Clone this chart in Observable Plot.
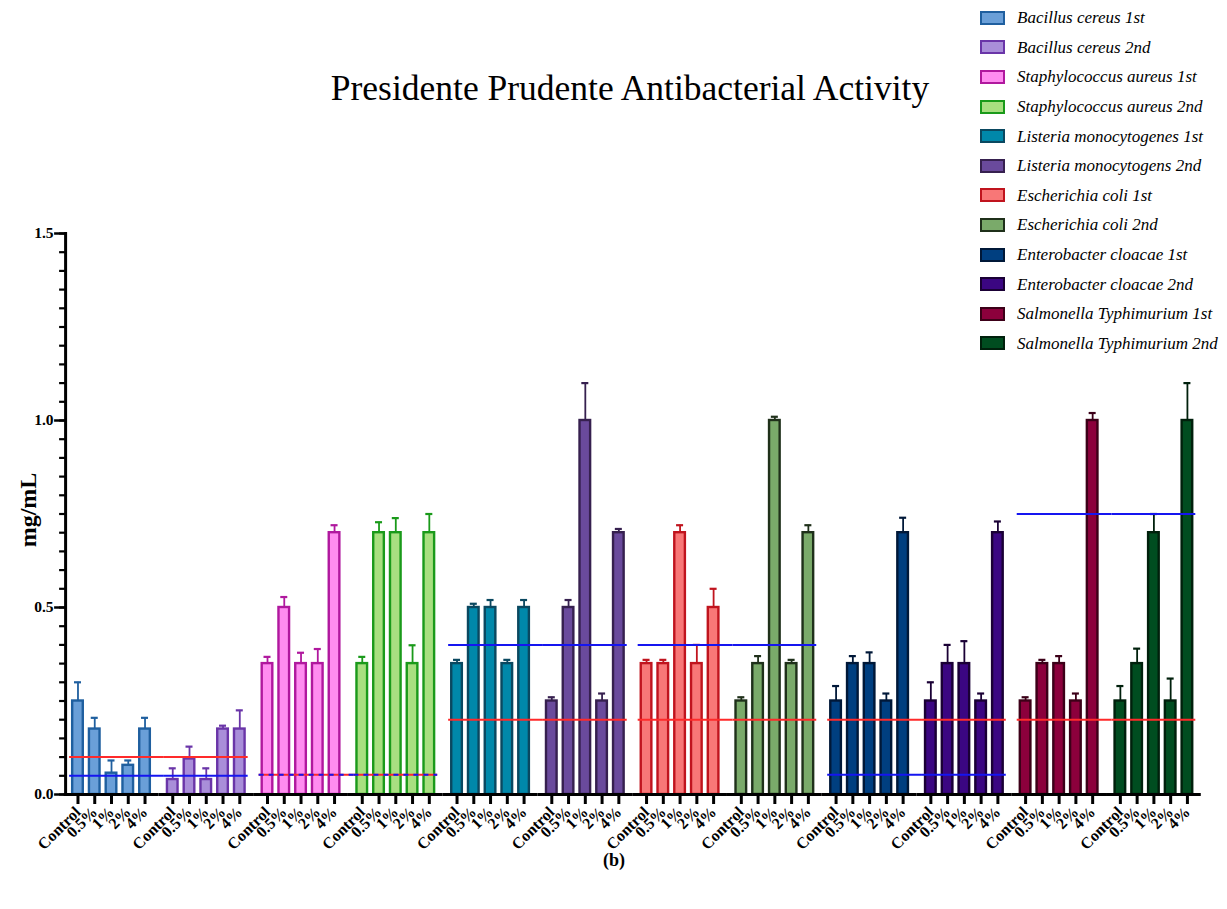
<!DOCTYPE html>
<html>
<head>
<meta charset="utf-8">
<script src="https://cdn.jsdelivr.net/npm/d3@7"></script>
<script src="https://cdn.jsdelivr.net/npm/@observablehq/plot@0.6"></script>
<style>
  body { margin: 0; background: #fff; }
  #wrap { position: relative; width: 1227px; height: 909px; font-family: "Liberation Serif", "Times New Roman", serif; color: #000; overflow: hidden; }
  #chart { position: absolute; left: 0; top: 0; }
  .title { position: absolute; left: 630px; top: 71px; transform: translateX(-50%); font-size: 35.5px; line-height: 35.5px; white-space: nowrap; }
  .ylabel { position: absolute; left: 28px; top: 510px; transform: translate(-50%, -50%) rotate(-90deg); font-size: 24px; font-weight: bold; line-height: 24px; white-space: nowrap; }
  .caption { position: absolute; left: 614px; top: 851px; transform: translateX(-50%); font-size: 18px; font-weight: bold; line-height: 18px; }
  #legend { position: absolute; left: 980px; top: 3px; }
  .row { display: flex; align-items: center; height: 29.6px; }
  .sw { width: 25px; height: 14px; box-sizing: border-box; border: 2.5px solid; margin-right: 12px; }
  .lt { font-size: 17px; line-height: 17px; font-style: italic; white-space: nowrap; }
</style>
</head>
<body>
<div id="wrap">
  <div id="chart"></div>
  <div class="title">Presidente Prudente Antibacterial Activity</div>
  <div class="ylabel">mg/mL</div>
  <div class="caption">(b)</div>
  <div id="legend"></div>
</div>
<script>
// ---- data ----
const concentrations = ["Control", "0.5%", "1%", "2%", "4%"];
const series = [
  "Bacillus cereus 1st", "Bacillus cereus 2nd",
  "Staphylococcus aureus 1st", "Staphylococcus aureus 2nd",
  "Listeria monocytogenes 1st", "Listeria monocytogens 2nd",
  "Escherichia coli 1st", "Escherichia coli 2nd",
  "Enterobacter cloacae 1st", "Enterobacter cloacae 2nd",
  "Salmonella Typhimurium 1st", "Salmonella Typhimurium 2nd"
];
const meanValues = [
  [0.25, 0.175, 0.057, 0.078, 0.175],
  [0.04, 0.095, 0.04, 0.175, 0.175],
  [0.35, 0.50, 0.35, 0.35, 0.70],
  [0.35, 0.70, 0.70, 0.35, 0.70],
  [0.35, 0.50, 0.50, 0.35, 0.50],
  [0.25, 0.50, 1.00, 0.25, 0.70],
  [0.35, 0.35, 0.70, 0.35, 0.50],
  [0.25, 0.35, 1.00, 0.35, 0.70],
  [0.25, 0.35, 0.35, 0.25, 0.70],
  [0.25, 0.35, 0.35, 0.25, 0.70],
  [0.25, 0.35, 0.35, 0.25, 1.00],
  [0.25, 0.35, 0.70, 0.25, 1.00]
];
const errorTops = [
  [0.30, 0.205, 0.091, 0.091, 0.205],
  [0.07, 0.128, 0.07, 0.184, 0.225],
  [0.368, 0.528, 0.379, 0.389, 0.72],
  [0.368, 0.728, 0.739, 0.399, 0.75],
  [0.36, 0.51, 0.52, 0.36, 0.52],
  [0.26, 0.52, 1.10, 0.27, 0.71],
  [0.36, 0.36, 0.72, 0.40, 0.55],
  [0.26, 0.37, 1.01, 0.36, 0.72],
  [0.29, 0.37, 0.38, 0.27, 0.74],
  [0.30, 0.40, 0.41, 0.27, 0.73],
  [0.26, 0.36, 0.37, 0.27, 1.02],
  [0.29, 0.39, 0.75, 0.31, 1.10]
];
// reference lines, one pair per species (spanning its 1st and 2nd series)
const redLineValues  = [0.10, 0.053, 0.20, 0.20, 0.20, 0.20];
const blueLineValues = [0.05, 0.053, 0.40, 0.40, 0.053, 0.75];
const yMajorTicks = [0, 0.5, 1.0, 1.5];

// ---- styles ----
const fills   = ["#6a9fd8", "#a98ed9", "#ff8cf0", "#a8df80", "#0088aa", "#6a4a9c",
                 "#f87777", "#7aaa6a", "#003f80", "#3b0682", "#8c003c", "#004d20"];
const strokes = ["#1f5f9f", "#6a35a8", "#b0189e", "#1a9a1a", "#0a4860", "#36204f",
                 "#c0141e", "#1f301a", "#001838", "#1a0035", "#3c0018", "#00200c"];
const RED = "#ff2a2a", BLUE = "#1515f0";

// ---- tables ----
const rows = series.flatMap((s, g) => concentrations.map((c, i) => ({
  group: s, conc: c, value: meanValues[g][i], err: errorTops[g][i],
  fill: fills[g], stroke: strokes[g]
})));
const lineRows = series.map((s, g) => ({
  group: s, first: g % 2 === 0,
  red: redLineValues[Math.floor(g / 2)], blue: blueLineValues[Math.floor(g / 2)]
}));
const GAP = 10.95;

const plot = Plot.plot({
  width: 1227, height: 909,
  marginTop: 233, marginBottom: 115, marginLeft: 69.1, marginRight: 31.7,
  style: {fontFamily: '"Liberation Serif", "Times New Roman", serif', color: "#000", background: "transparent", overflow: "visible"},
  fx: {domain: series, paddingInner: 0.1156, paddingOuter: 0, round: false, axis: null, label: null},
  x: {domain: concentrations, paddingInner: 0.367, paddingOuter: 0.1835, round: false, label: null},
  y: {domain: [0, 1.5], label: null},
  marks: [
    Plot.barY(rows, {fx: "group", x: "conc", y: "value", fill: "fill", stroke: "stroke", strokeWidth: 2.4}),
    // error bars (upper only)
    Plot.ruleX(rows, {fx: "group", x: "conc", y1: "value", y2: "err", stroke: "stroke", strokeWidth: 1.8}),
    Plot.tickY(rows, {fx: "group", x: "conc", y: "err", stroke: "stroke", strokeWidth: 2.2, insetLeft: 1.8, insetRight: 1.8}),
    // reference lines
    Plot.ruleY(lineRows.filter(d => d.first), {fx: "group", y: "red", stroke: RED, strokeWidth: 2, insetRight: -GAP}),
    Plot.ruleY(lineRows.filter(d => !d.first), {fx: "group", y: "red", stroke: RED, strokeWidth: 2}),
    Plot.ruleY(lineRows.filter(d => d.first && d.blue !== d.red), {fx: "group", y: "blue", stroke: BLUE, strokeWidth: 2, insetRight: -GAP}),
    Plot.ruleY(lineRows.filter(d => !d.first && d.blue !== d.red), {fx: "group", y: "blue", stroke: BLUE, strokeWidth: 2}),
    Plot.ruleY(lineRows.filter(d => d.first && d.blue === d.red), {fx: "group", y: "blue", stroke: BLUE, strokeWidth: 2, strokeDasharray: "5,5", insetRight: -GAP}),
    Plot.ruleY(lineRows.filter(d => !d.first && d.blue === d.red), {fx: "group", y: "blue", stroke: BLUE, strokeWidth: 2, strokeDasharray: "5,5"}),
    // axis lines
    Plot.ruleY([0], {stroke: "#000", strokeWidth: 3, insetLeft: -GAP / 2, insetRight: -GAP / 2}),
    Plot.frame({anchor: "left", facetAnchor: "left", stroke: "#000", strokeWidth: 3, dx: -4}),
    Plot.axisY({ticks: d3.range(0, 1.5001, 0.05), tickSize: 6, tickFormat: () => "", strokeWidth: 2.2, dx: -4, label: null}),
    Plot.axisY({ticks: yMajorTicks, tickSize: 11, tickPadding: 1, tickFormat: d3.format(".1f"), fontSize: 15.5, fontWeight: "bold", strokeWidth: 2.5, dx: -4, label: null}),
    Plot.axisX({tickRotate: -45, tickSize: 10, tickPadding: 5, fontSize: 16, fontWeight: "bold", strokeWidth: 3, label: null})
  ]
});
document.getElementById("chart").appendChild(plot);

// legend
const legend = document.getElementById("legend");
series.forEach((s, g) => {
  const row = document.createElement("div");
  row.className = "row";
  const sw = document.createElement("div");
  sw.className = "sw";
  sw.style.background = fills[g];
  sw.style.borderColor = strokes[g];
  const t = document.createElement("span");
  t.className = "lt";
  t.textContent = s;
  row.appendChild(sw);
  row.appendChild(t);
  legend.appendChild(row);
});
</script>
</body>
</html>
